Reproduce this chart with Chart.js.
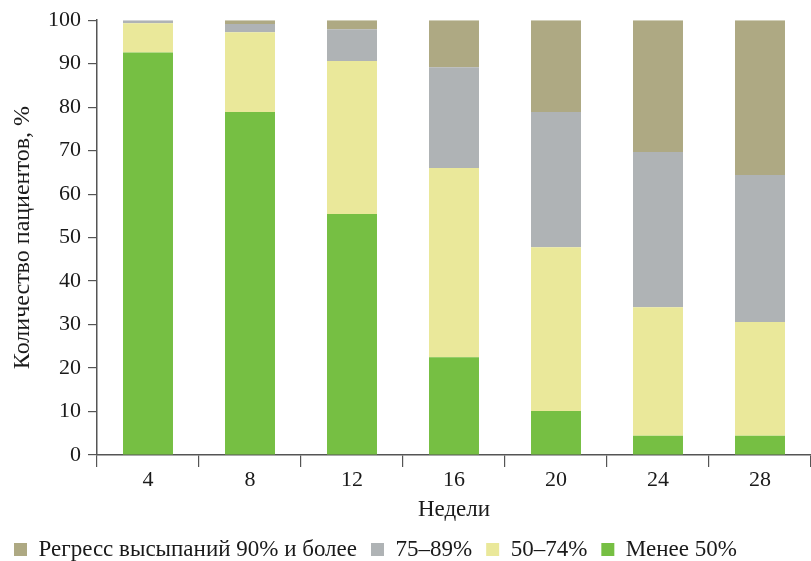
<!DOCTYPE html>
<html>
<head>
<meta charset="utf-8">
<script src="https://cdn.jsdelivr.net/npm/chart.js@4/dist/chart.umd.min.js"></script>
<style>
  html, body { margin: 0; padding: 0; background: #fff; }
  #wrap { width: 811px; height: 561px; }
</style>
</head>
<body>
<div id="wrap"><canvas id="chart"></canvas></div>
<script>
// weeks of treatment
const weeks = ["4", "8", "12", "16", "20", "24", "28"];

// share of patients per group, %
const less50 = [92.6, 78.9, 55.4, 22.5, 10.1, 4.4, 4.4];
const from50to74 = [6.7, 18.3, 35.2, 43.5, 37.7, 29.6, 26.2];
const from75to89 = [0.7, 1.9, 7.3, 23.2, 31.1, 35.7, 33.8];
const over90 = [0.0, 0.9, 2.1, 10.8, 21.1, 30.3, 35.6];

const yTicks = [0, 10, 20, 30, 40, 50, 60, 70, 80, 90, 100];

const FONT = "'Liberation Serif', 'DejaVu Serif', serif";
const AXIS = "#555555";

Chart.defaults.font.family = FONT;
Chart.defaults.font.size = 22;
Chart.defaults.color = "#1a1a1a";

const ctx = document.getElementById("chart").getContext("2d");
new Chart(ctx, {
  type: "bar",
  data: {
    labels: weeks,
    datasets: [
      { label: "Менее 50%", data: less50, backgroundColor: "#76bf43" },
      { label: "50–74%", data: from50to74, backgroundColor: "#eae89a" },
      { label: "75–89%", data: from75to89, backgroundColor: "#afb3b5" },
      { label: "Регресс высыпаний 90% и более", data: over90, backgroundColor: "#aea983" }
    ]
  },
  options: {
    responsive: true,
    maintainAspectRatio: false,
    animation: false,
    layout: { padding: { top: 11, left: 0, right: 0, bottom: -10 } },
    datasets: {
      bar: { barPercentage: 0.49, categoryPercentage: 1.0 }
    },
    scales: {
      x: {
        stacked: true,
        afterFit: (scale) => { scale.height = 69; },
        border: { color: AXIS, width: 1.5 },
        grid: { drawOnChartArea: false, color: AXIS, lineWidth: 1.2, tickLength: 12, offset: true },
        ticks: { padding: 0 },
        title: { display: true, text: "Недели", font: { size: 23 }, padding: { top: 6, bottom: 0 } }
      },
      y: {
        stacked: true,
        min: 0,
        max: 100,
        afterBuildTicks: (scale) => { scale.ticks = yTicks.map(v => ({ value: v })); },
        afterFit: (scale) => { scale.width = 97; },
        border: { color: AXIS, width: 1.5 },
        grid: { drawOnChartArea: false, color: AXIS, lineWidth: 1.2, tickLength: 9 },
        ticks: { padding: 7 },
        title: { display: true, text: "Количество пациентов, %", font: { size: 24 }, padding: { top: 8, bottom: 2 } }
      }
    },
    plugins: {
      tooltip: { enabled: false },
      legend: {
        position: "bottom",
        align: "start",
        reverse: true,
        labels: { boxWidth: 13, boxHeight: 13, padding: 14, font: { size: 23 } }
      }
    }
  }
});
</script>
</body>
</html>
